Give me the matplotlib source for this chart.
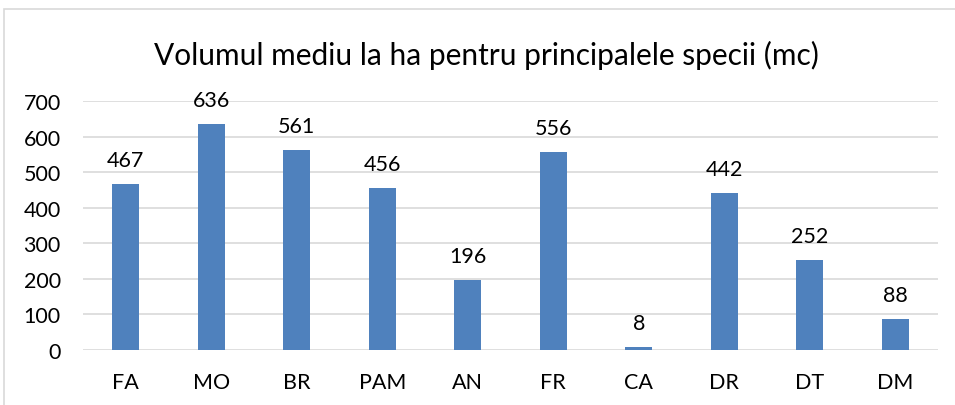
import matplotlib.pyplot as plt
from matplotlib.patches import Rectangle

species = ["FA", "MO", "BR", "PAM", "AN", "FR", "CA", "DR", "DT", "DM"]
volume = [467, 636, 561, 456, 196, 556, 8, 442, 252, 88]
yticks = [0, 100, 200, 300, 400, 500, 600, 700]

plt.rcParams['font.family'] = ['Lato', 'DejaVu Sans']

fig = plt.figure(figsize=(9.55, 4.06), dpi=100)
# light frame of the chart area, cut at right and bottom like the source
fig.patches.append(Rectangle((4 / 955, -0.1), 1.1, (406 - 10) / 406 + 0.1,
                             transform=fig.transFigure, fill=False,
                             edgecolor="#d9d9d9", linewidth=1.2))

ax = fig.add_axes([83 / 955, 55 / 406, (938 - 83) / 955, (351 - 102) / 406])
x = range(len(species))
bars = ax.bar(x, volume, width=0.32, color="#4f81bd", zorder=3)
for b, v in zip(bars, volume):
    ax.annotate(str(v), (b.get_x() + b.get_width() / 2, v),
                xytext=(0, 13), textcoords="offset points",
                ha="center", va="baseline", fontsize=15.5, color="#000000")

ax.set_xlim(-0.5, len(species) - 0.5)
ax.set_ylim(0, 700)
ax.set_yticks(yticks)
ax.set_xticks(list(x))
ax.set_xticklabels(species)
ax.tick_params(axis="both", length=0, labelsize=15.5, colors="#000000")
ax.tick_params(axis="x", pad=16)
ax.tick_params(axis="y", pad=16)
ax.grid(axis="y", color="#d9d9d9", linewidth=1.2, zorder=0)
for s in ["top", "right", "left", "bottom"]:
    ax.spines[s].set_visible(False)

fig.text(486 / 955, 1 - 55 / 406, "Volumul mediu la ha pentru principalele specii (mc)",
         ha="center", va="center", fontsize=21.5, color="#000000")

fig.savefig("out.png", dpi=100)
